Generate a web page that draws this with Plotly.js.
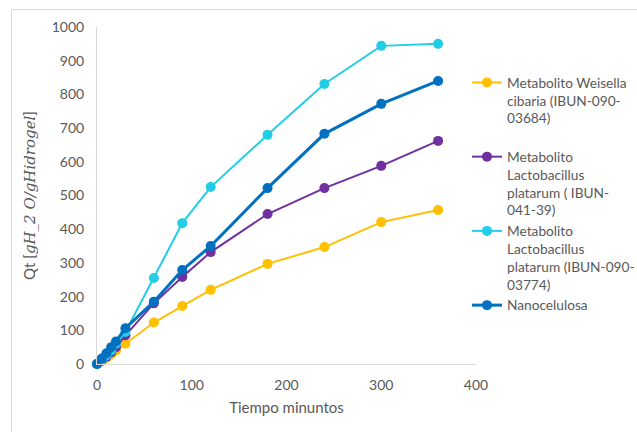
<!DOCTYPE html>
<html>
<head>
<meta charset="utf-8">
<script src="https://cdn.plot.ly/plotly-3.0.1.min.js"></script>
<style>html,body{margin:0;padding:0;background:#fff;}#chart{width:637px;height:432px;}</style>
</head>
<body>
<div id="chart"></div>
<script>
const tiempo = [0, 5, 10, 15, 20, 30, 60, 90, 120, 180, 240, 300, 360];
const weisella = [0, 8, 18, 28, 40, 60, 123, 172, 220, 297, 347, 421, 457];
const lactoA = [0, 10, 22, 35, 50, 85, 180, 258, 332, 445, 522, 588, 662];
const lactoB = [0, 12, 25, 40, 60, 95, 255, 418, 525, 680, 831, 944, 950];
const nanocelulosa = [0, 16, 32, 50, 67, 106, 185, 279, 350, 522, 683, 772, 840];
const seriesNames = [
  "Metabolito Weisella<br>cibaria (IBUN-090-<br>03684)<br>&nbsp;",
  "Metabolito<br>Lactobacillus<br>platarum ( IBUN-<br>041-39)",
  "Metabolito<br>Lactobacillus<br>platarum (IBUN-090-<br>03774)",
  "Nanocelulosa"
];
const colors = ["#FFC000", "#7030A0", "#22CDE6", "#0070C0"];
const widths = [2, 2, 2, 3];
const data = [weisella, lactoA, lactoB, nanocelulosa];

const traces = data.map((y, i) => ({
  x: tiempo, y: y, type: "scatter", mode: "lines+markers",
  name: seriesNames[i], cliponaxis: false,
  line: {color: colors[i], width: widths[i]},
  marker: {color: colors[i], size: 10}
}));

const FONT = "Lato, Open Sans, sans-serif";
const layout = {
  width: 637, height: 432,
  margin: {l: 97, r: 161, t: 27, b: 68, autoexpand: false},
  paper_bgcolor: "#fff", plot_bgcolor: "#fff",
  font: {family: FONT, color: "#595959", size: 13},
  showlegend: true,
  legend: {xref: "container", yref: "container", x: 467 / 637, xanchor: "left",
    y: 1 - 67 / 432, yanchor: "top", valign: "top", maxheight: 360,
    font: {family: FONT, size: 13.7, color: "#595959"}, tracegroupgap: 0, itemwidth: 30},
  xaxis: {range: [0, 400], dtick: 100, showgrid: false, zeroline: false,
    showline: true, linecolor: "#D9D9D9", linewidth: 1, ticks: "", ticklabelstandoff: 8,
    tickfont: {family: FONT, size: 14, color: "#595959"},
    title: {text: "Tiempo minuntos", font: {family: FONT, size: 15, color: "#595959"}, standoff: 10}},
  yaxis: {range: [0, 1000], dtick: 100, showgrid: false, zeroline: false,
    showline: true, linecolor: "#D9D9D9", linewidth: 1, ticks: "", ticklabelstandoff: 9,
    tickfont: {family: FONT, size: 14, color: "#595959"},
    title: {text: "Qt [<span style=\"font-family:DejaVu Serif\"><i>gH_2 O/gHidrogel</i></span>]",
      font: {family: FONT, size: 15, color: "#595959"}, standoff: 12}},
  shapes: [{type: "rect", xref: "paper", yref: "paper",
    x0: (11.5 - 97) / 379, x1: (640 - 97) / 379, y0: (364 - 440) / 337, y1: (364 - 9.5) / 337,
    line: {color: "#D9D9D9", width: 1}, fillcolor: "rgba(0,0,0,0)", layer: "below"}]
};

Plotly.newPlot("chart", traces, layout, {displayModeBar: false, staticPlot: true});
</script>
</body>
</html>
